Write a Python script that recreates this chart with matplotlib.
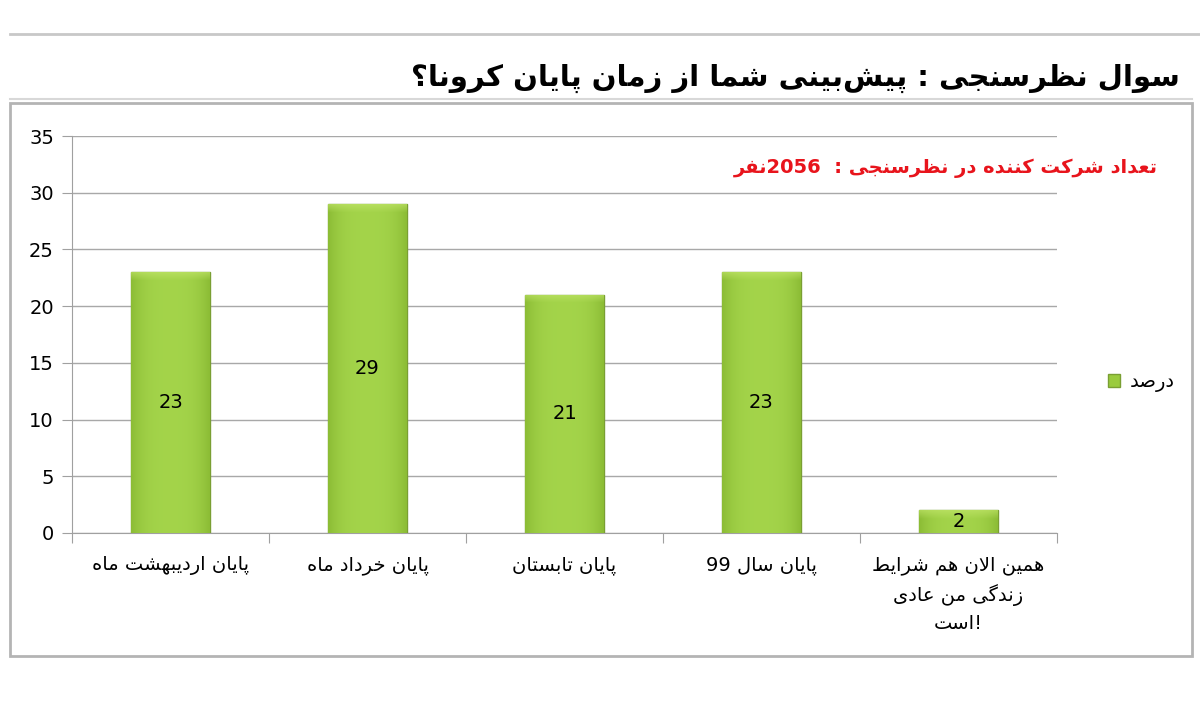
import re
import matplotlib
matplotlib.use("Agg")
import matplotlib.pyplot as plt
import numpy as np
from matplotlib.patches import Rectangle, Patch
from matplotlib.lines import Line2D

# chart data
title = "سوال نظرسنجی : پیش‌بینی شما از زمان پایان کرونا؟"
note = "تعداد شرکت کننده در نظرسنجی :  2056نفر"
categories = ["پایان اردیبهشت ماه", "پایان خرداد ماه", "پایان تابستان",
              "پایان سال 99", "همین الان هم شرایط\nزندگی من عادی\nاست!"]
values = [23, 29, 21, 23, 2]
series_name = "درصد"
yticks = [0, 5, 10, 15, 20, 25, 30, 35]

# (isolated, final, initial, medial) presentation forms
FORMS = {
    "ا": ("\uFE8D", "\uFE8E", None, None),
    "ب": ("\uFE8F", "\uFE90", "\uFE91", "\uFE92"),
    "پ": ("\uFB56", "\uFB57", "\uFB58", "\uFB59"),
    "ت": ("\uFE95", "\uFE96", "\uFE97", "\uFE98"),
    "ث": ("\uFE99", "\uFE9A", "\uFE9B", "\uFE9C"),
    "ج": ("\uFE9D", "\uFE9E", "\uFE9F", "\uFEA0"),
    "چ": ("\uFB7A", "\uFB7B", "\uFB7C", "\uFB7D"),
    "ح": ("\uFEA1", "\uFEA2", "\uFEA3", "\uFEA4"),
    "خ": ("\uFEA5", "\uFEA6", "\uFEA7", "\uFEA8"),
    "د": ("\uFEA9", "\uFEAA", None, None),
    "ذ": ("\uFEAB", "\uFEAC", None, None),
    "ر": ("\uFEAD", "\uFEAE", None, None),
    "ز": ("\uFEAF", "\uFEB0", None, None),
    "ژ": ("\uFB8A", "\uFB8B", None, None),
    "س": ("\uFEB1", "\uFEB2", "\uFEB3", "\uFEB4"),
    "ش": ("\uFEB5", "\uFEB6", "\uFEB7", "\uFEB8"),
    "ص": ("\uFEB9", "\uFEBA", "\uFEBB", "\uFEBC"),
    "ض": ("\uFEBD", "\uFEBE", "\uFEBF", "\uFEC0"),
    "ط": ("\uFEC1", "\uFEC2", "\uFEC3", "\uFEC4"),
    "ظ": ("\uFEC5", "\uFEC6", "\uFEC7", "\uFEC8"),
    "ع": ("\uFEC9", "\uFECA", "\uFECB", "\uFECC"),
    "غ": ("\uFECD", "\uFECE", "\uFECF", "\uFED0"),
    "ف": ("\uFED1", "\uFED2", "\uFED3", "\uFED4"),
    "ق": ("\uFED5", "\uFED6", "\uFED7", "\uFED8"),
    "ک": ("\uFB8E", "\uFB8F", "\uFB90", "\uFB91"),
    "گ": ("\uFB92", "\uFB93", "\uFB94", "\uFB95"),
    "ل": ("\uFEDD", "\uFEDE", "\uFEDF", "\uFEE0"),
    "م": ("\uFEE1", "\uFEE2", "\uFEE3", "\uFEE4"),
    "ن": ("\uFEE5", "\uFEE6", "\uFEE7", "\uFEE8"),
    "ه": ("\uFEE9", "\uFEEA", "\uFEEB", "\uFEEC"),
    "و": ("\uFEED", "\uFEEE", None, None),
    "ی": ("\uFBFC", "\uFBFD", "\uFBFE", "\uFBFF"),
}


def shape(line):
    # join letters, lam-alef ligature, drop ZWNJ
    out = []
    i = 0
    n = len(line)
    while i < n:
        c = line[i]
        if c not in FORMS:
            if c != "\u200c":
                out.append(c)
            i += 1
            continue
        prev = line[i - 1] if i > 0 else ""
        prev_join = prev in FORMS and FORMS[prev][2] is not None
        if c == "ل" and i + 1 < n and line[i + 1] == "ا":
            out.append("\uFEFC" if prev_join else "\uFEFB")
            i += 2
            continue
        nxt = line[i + 1] if i + 1 < n else ""
        next_join = nxt in FORMS and FORMS[c][2] is not None
        iso, fin, ini, med = FORMS[c]
        if prev_join and next_join:
            out.append(med)
        elif prev_join:
            out.append(fin)
        elif next_join:
            out.append(ini)
        else:
            out.append(iso)
        i += 1
    return "".join(out)


def rtl(text):
    lines = []
    for line in text.split("\n"):
        tail = ""
        if line.endswith("!"):
            line, tail = line[:-1], "!"
        vis = shape(line)[::-1]
        vis = re.sub(r"[0-9]+", lambda m: m.group(0)[::-1], vis)
        lines.append(vis + tail)
    return "\n".join(lines)


plt.rcParams["font.family"] = ["DejaVu Sans"]

fig = plt.figure(figsize=(12, 7.21), dpi=100)
W, H = 1200, 721

# frame lines around the chart
fig.add_artist(Line2D([10 / W, 1.0], [1 - 34 / H] * 2, color="#c8c8c8", lw=2))
fig.add_artist(Line2D([10 / W, 1192 / W], [1 - 99 / H] * 2, color="#d8d8d8", lw=1.5))
fig.add_artist(Rectangle((10 / W, 1 - 656 / H), 1182 / W, 553 / H,
                         fill=False, edgecolor="#b4b4b4", lw=2))

fig.text(1180 / W, 1 - 78 / H, rtl(title), ha="right", va="center",
         fontsize=21, fontweight="bold", color="black")

ax_h = 397
ax = fig.add_axes([72 / W, 1 - 533 / H, 985 / W, ax_h / H])
x = np.arange(len(categories))
bars = ax.bar(x, values, width=0.4, color="#9acb3e", edgecolor="#7a9f33",
              linewidth=1, zorder=3)

# shaded fill inside each bar: darker sides, light band at the top
prof = np.linspace(-1, 1, 60)
wgt = np.abs(prof) ** 3
dark = np.array([0.55, 0.74, 0.21])
light = np.array([0.64, 0.83, 0.29])
top = np.array([0.76, 0.90, 0.42])
row = light[None, :] * (1 - wgt[:, None]) + dark[None, :] * wgt[:, None]
for b in bars:
    npx = max(int(b.get_height() * ax_h / 35), 4)
    img = np.repeat(row[None, :, :], npx, axis=0)
    band = min(8, npx // 2)
    for r in range(band):
        t = 1 - r / band
        img[r] = img[r] * (1 - 0.6 * t) + top * 0.6 * t
    im = ax.imshow(img, extent=(b.get_x(), b.get_x() + b.get_width(), 0, b.get_height()),
                   aspect="auto", zorder=3.5, interpolation="bilinear", origin="upper")
    im.set_clip_path(b)

for xi, v in zip(x, values):
    ax.text(xi, v / 2, str(v), ha="center", va="center", fontsize=14, zorder=5)

ax.set_xlim(-0.5, len(categories) - 0.5)
ax.set_ylim(0, 35)
ax.set_yticks(yticks)
ax.tick_params(axis="y", labelsize=14, length=7, color="#a0a0a0", pad=6)
ax.yaxis.grid(True, color="#a8a8a8", lw=1)
ax.set_axisbelow(True)

ax.set_xticks(np.arange(len(categories) + 1) - 0.5)
ax.set_xticklabels([])
ax.tick_params(axis="x", length=7, color="#a0a0a0")
for xi, c in zip(x, categories):
    ax.text(xi, -2.0, rtl(c), ha="center", va="top", fontsize=14,
            linespacing=1.55)

for s in ["top", "right"]:
    ax.spines[s].set_visible(False)
ax.spines["left"].set_color("#a0a0a0")
ax.spines["bottom"].set_color("#a0a0a0")

fig.text(1158 / W, 1 - 168 / H, rtl(note), ha="right", va="center",
         fontsize=14, fontweight="bold", color="#e8141c")

fig.legend(handles=[Patch(facecolor="#9acb3e", edgecolor="#7a9f33")],
           labels=[rtl(series_name)], loc="center left",
           bbox_to_anchor=(1090 / W, 1 - 382 / H), frameon=False,
           fontsize=14, handlelength=0.65, handleheight=0.65, handletextpad=0.5)

fig.savefig("out.png", dpi=100)
